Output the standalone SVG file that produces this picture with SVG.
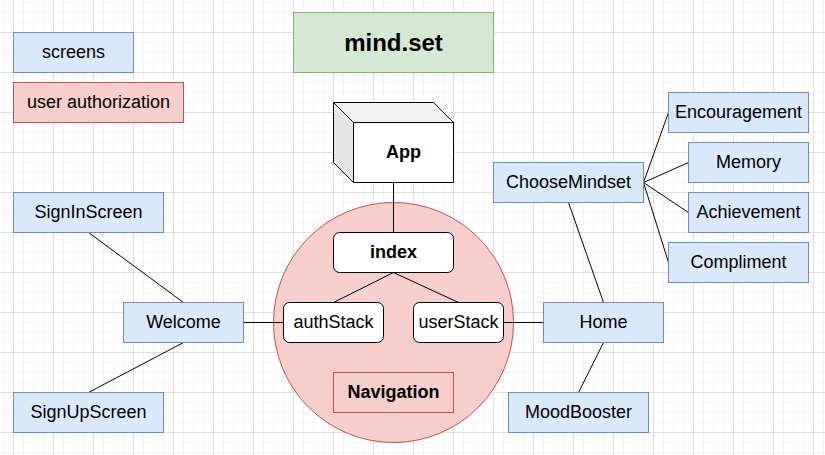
<svg xmlns="http://www.w3.org/2000/svg" width="825" height="455" viewBox="0 0 825 455">
  <defs>
    <pattern id="minor" x="3" y="2" width="10" height="10" patternUnits="userSpaceOnUse">
      <path d="M0.5 0V10M0 0.5H10" stroke="#f3f3f3" stroke-width="1" fill="none"/>
    </pattern>
    <pattern id="major" x="13" y="-8" width="40" height="40" patternUnits="userSpaceOnUse">
      <path d="M0.5 0V40M0 0.5H40" stroke="#e0e0e0" stroke-width="1" fill="none"/>
    </pattern>
  </defs>
  <style>
    .blue { fill: #dae8fc; stroke: #6c8ebf; stroke-width: 1; }
    .red { fill: #f8cecc; stroke: #b85450; stroke-width: 1; }
    .green { fill: #d5e8d4; stroke: #82b366; stroke-width: 1; }
    .white { fill: #ffffff; stroke: #000000; stroke-width: 1; }
    .t { font-family: "Liberation Sans", Arial, sans-serif; font-size: 18px; fill: #000; text-anchor: middle; dominant-baseline: central; }
    .b { font-weight: bold; }
    .edge { stroke: #000; stroke-width: 1; fill: none; }
  </style>
  <rect x="0" y="0" width="825" height="455" fill="#ffffff"/>
  <rect x="0" y="0" width="825" height="455" fill="url(#minor)"/>
  <rect x="0" y="0" width="825" height="455" fill="url(#major)"/>

  <g id="navigation">
    <circle class="red" cx="393.5" cy="322.5" r="120"/>
    <rect class="red" x="333.5" y="372.5" width="120" height="40"/>
    <text class="t b" x="393.5" y="392">Navigation</text>
  </g>

  <g id="connectors">
    <line class="edge" x1="393.5" y1="182.5" x2="393.5" y2="232.5"/>
    <line class="edge" x1="393.5" y1="272.5" x2="333.5" y2="302.5"/>
    <line class="edge" x1="393.5" y1="272.5" x2="458.5" y2="302.5"/>
    <line class="edge" x1="283.5" y1="322.5" x2="243.5" y2="322.5"/>
    <line class="edge" x1="503.5" y1="322.5" x2="543.5" y2="322.5"/>
    <line class="edge" x1="88.5" y1="232.5" x2="183.5" y2="302.5"/>
    <line class="edge" x1="183.5" y1="342.5" x2="88.5" y2="392.5"/>
    <line class="edge" x1="603.5" y1="342.5" x2="578.5" y2="392.5"/>
    <line class="edge" x1="603.5" y1="302.5" x2="568.5" y2="202.5"/>
    <line class="edge" x1="643.5" y1="182.5" x2="668.5" y2="112.5"/>
    <line class="edge" x1="643.5" y1="182.5" x2="688.5" y2="162.5"/>
    <line class="edge" x1="643.5" y1="182.5" x2="688.5" y2="212.5"/>
    <line class="edge" x1="643.5" y1="182.5" x2="668.5" y2="262.5"/>
  </g>

  <g id="legend-screens">
    <rect class="blue" x="13.5" y="32.5" width="120" height="40"/>
    <text class="t" x="73.5" y="52">screens</text>
  </g>
  <g id="legend-auth">
    <rect class="red" x="13.5" y="82.5" width="170" height="40"/>
    <text class="t" x="98.5" y="102">user authorization</text>
  </g>
  <g id="title">
    <rect class="green" x="293.5" y="12.5" width="200" height="60"/>
    <text class="t b" x="393.5" y="42" style="font-size:24px">mind.set</text>
  </g>
  <g id="app">
    <path d="M333.5 102.5H433.5L453.5 122.5V182.5H353.5L333.5 162.5Z" fill="#ffffff" stroke="none"/>
    <path d="M333.5 102.5H433.5L453.5 122.5H353.5Z" fill="#f1f1f1" stroke="none"/>
    <path d="M333.5 102.5L353.5 122.5V182.5L333.5 162.5Z" fill="#e6e6e6" stroke="none"/>
    <path d="M333.5 102.5H433.5L453.5 122.5V182.5H353.5L333.5 162.5Z M333.5 102.5L353.5 122.5H453.5 M353.5 122.5V182.5" fill="none" stroke="#000" stroke-width="1"/>
    <text class="t b" x="403.5" y="152">App</text>
  </g>
  <g id="index">
    <rect class="white" x="333.5" y="232.5" width="120" height="40" rx="6"/>
    <text class="t b" x="393.5" y="252">index</text>
  </g>
  <g id="authStack">
    <rect class="white" x="283.5" y="302.5" width="100" height="40" rx="6"/>
    <text class="t" x="333.5" y="322">authStack</text>
  </g>
  <g id="userStack">
    <rect class="white" x="413.5" y="302.5" width="90" height="40" rx="6"/>
    <text class="t" x="458.5" y="322">userStack</text>
  </g>
  <g id="signIn">
    <rect class="blue" x="13.5" y="192.5" width="150" height="40"/>
    <text class="t" x="88.5" y="212">SignInScreen</text>
  </g>
  <g id="welcome">
    <rect class="blue" x="123.5" y="302.5" width="120" height="40"/>
    <text class="t" x="183.5" y="322">Welcome</text>
  </g>
  <g id="signUp">
    <rect class="blue" x="13.5" y="392.5" width="150" height="40"/>
    <text class="t" x="88.5" y="412">SignUpScreen</text>
  </g>
  <g id="home">
    <rect class="blue" x="543.5" y="302.5" width="120" height="40"/>
    <text class="t" x="603.5" y="322">Home</text>
  </g>
  <g id="moodBooster">
    <rect class="blue" x="508.5" y="392.5" width="140" height="40"/>
    <text class="t" x="578.5" y="412">MoodBooster</text>
  </g>
  <g id="chooseMindset">
    <rect class="blue" x="493.5" y="162.5" width="150" height="40"/>
    <text class="t" x="568.5" y="182">ChooseMindset</text>
  </g>
  <g id="encouragement">
    <rect class="blue" x="668.5" y="92.5" width="140" height="40"/>
    <text class="t" x="738.5" y="112">Encouragement</text>
  </g>
  <g id="memory">
    <rect class="blue" x="688.5" y="142.5" width="120" height="40"/>
    <text class="t" x="748.5" y="162">Memory</text>
  </g>
  <g id="achievement">
    <rect class="blue" x="688.5" y="192.5" width="120" height="40"/>
    <text class="t" x="748.5" y="212">Achievement</text>
  </g>
  <g id="compliment">
    <rect class="blue" x="668.5" y="242.5" width="140" height="40"/>
    <text class="t" x="738.5" y="262">Compliment</text>
  </g>
</svg>
